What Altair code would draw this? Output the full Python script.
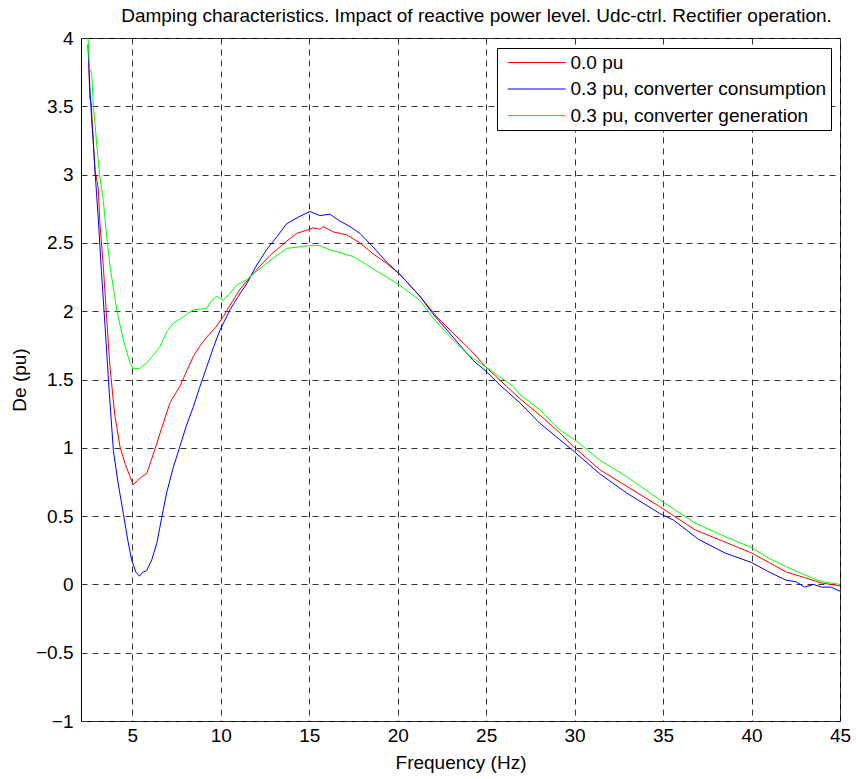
import altair as alt
import pandas as pd

SERIES = ["0.0 pu", "0.3 pu, converter consumption", "0.3 pu, converter generation"]
COLORS = ["#ff0000", "#0000ff", "#00ff00"]

red_f = [2.5, 2.55, 2.6, 2.68, 2.79, 2.89, 3.0, 3.08, 3.17, 3.36, 3.55, 3.74, 4.0, 4.3, 4.6, 4.87,
         5.05, 5.3, 5.55, 5.81, 6.1, 6.38, 6.75, 7.13, 7.69, 8.1, 8.45, 8.8, 9.2, 9.7, 10.14, 10.6,
         11.08, 11.6, 12.21, 12.8, 13.34, 13.8, 14.29, 14.8, 15.22, 15.6, 15.79, 16.36, 17.1, 17.86,
         18.61, 19.37, 20.12, 21.25, 22.2, 23.13, 24.08, 25.0, 26.15, 26.9, 28.03, 29.16, 30.0,
         31.42, 32.93, 34.8, 36.8, 38.5, 40.0, 41.0, 41.97, 43.0, 43.96, 45.0]
red_v = [3.95, 3.75, 3.56, 3.52, 3.25, 3.03, 2.96, 2.89, 2.64, 2.33, 1.95, 1.59, 1.25, 1.01, 0.88, 0.79,
         0.73, 0.76, 0.79, 0.81, 0.92, 1.03, 1.18, 1.33, 1.45, 1.57, 1.67, 1.74, 1.81, 1.88, 1.96, 2.06,
         2.16, 2.24, 2.33, 2.41, 2.47, 2.52, 2.57, 2.59, 2.61, 2.60, 2.62, 2.58, 2.56, 2.50,
         2.42, 2.35, 2.27, 2.11, 1.96, 1.84, 1.72, 1.59, 1.45, 1.36, 1.24, 1.11, 1.00,
         0.84, 0.72, 0.57, 0.40, 0.31, 0.23, 0.16, 0.09, 0.05, 0.01, -0.01]

blue_f = [2.5, 2.6, 2.7, 2.79, 2.89, 3.08, 3.25, 3.46, 3.7, 3.93, 4.2, 4.49, 4.75, 4.96, 5.2, 5.4,
          5.6, 5.81, 6.1, 6.38, 6.65, 6.94, 7.3, 7.69, 8.05, 8.45, 8.8, 9.2, 9.6, 9.95, 10.52, 11.0,
          11.46, 12.0, 12.59, 13.2, 13.72, 14.4, 15.04, 15.6, 16.17, 16.73, 17.3, 17.86, 18.61, 19.37,
          20.12, 21.25, 22.0, 23.13, 24.26, 25.0, 25.77, 26.9, 28.03, 29.16, 30.0, 31.42, 32.93,
          34.8, 35.6, 37.0, 38.5, 40.0, 41.0, 41.97, 42.5, 43.0, 43.5, 43.96, 44.5, 45.0]
blue_v = [3.95, 3.64, 3.4, 3.25, 3.03, 2.67, 2.3, 1.89, 1.4, 0.98, 0.74, 0.52, 0.32, 0.18, 0.09, 0.06,
          0.09, 0.10, 0.18, 0.30, 0.48, 0.67, 0.85, 1.01, 1.16, 1.30, 1.44, 1.59, 1.74, 1.86, 2.01, 2.11,
          2.20, 2.33, 2.45, 2.55, 2.64, 2.69, 2.73, 2.70, 2.71, 2.66, 2.62, 2.57, 2.47, 2.36,
          2.27, 2.11, 1.98, 1.81, 1.64, 1.56, 1.46, 1.33, 1.18, 1.06, 0.97, 0.81, 0.67,
          0.52, 0.47, 0.33, 0.23, 0.16, 0.09, 0.03, 0.02, -0.02, 0.0, -0.02, -0.02, -0.05]

green_f = [2.5, 2.55, 2.6, 2.7, 2.8, 2.91, 3.0, 3.17, 3.36, 3.55, 3.74, 4.12, 4.49, 4.87, 5.05, 5.4,
           5.81, 6.2, 6.56, 6.95, 7.31, 7.9, 8.45, 9.2, 9.5, 9.77, 10.14, 10.5, 10.9, 11.46, 12.0,
           12.59, 13.2, 13.72, 14.4, 15.04, 15.6, 16.17, 17.49, 18.61, 19.37, 20.12, 21.25, 22.0,
           23.13, 24.08, 25.0, 26.53, 26.9, 28.03, 29.16, 30.0, 31.42, 32.93, 34.8, 36.8, 38.5,
           40.0, 41.0, 41.97, 43.0, 43.96, 45.0]
green_v = [4.0, 3.85, 3.77, 3.75, 3.5, 3.35, 3.2, 2.98, 2.81, 2.55, 2.33, 2.01, 1.79, 1.62, 1.58, 1.58,
           1.62, 1.68, 1.74, 1.85, 1.91, 1.96, 2.01, 2.02, 2.08, 2.11, 2.08, 2.13, 2.19, 2.23, 2.29,
           2.35, 2.41, 2.46, 2.47, 2.48, 2.48, 2.45, 2.40, 2.31, 2.25, 2.19, 2.08, 1.95,
           1.79, 1.67, 1.59, 1.45, 1.39, 1.28, 1.13, 1.06, 0.91, 0.79, 0.62, 0.45, 0.35,
           0.27, 0.19, 0.13, 0.07, 0.02, 0.0]

x_ticks = [5, 10, 15, 20, 25, 30, 35, 40, 45]
y_ticks = [-1, -0.5, 0, 0.5, 1, 1.5, 2, 2.5, 3, 3.5, 4]

rows = []
for name, fs, vs in [(SERIES[0], red_f, red_v), (SERIES[1], blue_f, blue_v), (SERIES[2], green_f, green_v)]:
    for f, v in zip(fs, vs):
        rows.append({"series": name, "freq": f, "de": v})
df = pd.DataFrame(rows)

FONT = "Liberation Sans"

chart = alt.Chart(df).mark_line(strokeWidth=1, clip=True).encode(
    x=alt.X("freq:Q", scale=alt.Scale(domain=[2.1, 45], nice=False, zero=False),
            axis=alt.Axis(values=x_ticks, title="Frequency (Hz)", format="d", labelFlush=False,
                          labelPadding=5, titlePadding=8)),
    y=alt.Y("de:Q", scale=alt.Scale(domain=[-1, 4], nice=False),
            axis=alt.Axis(values=y_ticks, title="De (pu)", format="~g", labelFlush=False,
                          labelPadding=8, titlePadding=6)),
    color=alt.Color("series:N", scale=alt.Scale(domain=SERIES, range=COLORS),
                    legend=alt.Legend(title=None, orient="none", legendX=416, legendY=10,
                                      symbolType="M-0.4,0H5.6", symbolSize=374, symbolStrokeWidth=1,
                                      symbolFillColor="transparent",
                                      labelFontSize=19, labelFont=FONT, labelColor="black",
                                      labelLimit=400, strokeColor="black", fillColor="white",
                                      padding=4, rowPadding=5.5, labelOffset=48.5)),
    order="freq:Q",
).properties(
    width=759, height=683,
    title=alt.TitleParams("Damping characteristics. Impact of reactive power level. Udc-ctrl. Rectifier operation.",
                          fontSize=19, font=FONT, fontWeight="normal", color="black", offset=3, dx=16),
    padding={"left": 81, "top": 38, "right": 16, "bottom": 58},
    autosize=alt.AutoSizeParams(type="none"),
    background="white",
).configure_view(
    stroke="black", strokeWidth=1
).configure_axis(
    grid=True, gridColor="#333333", gridDash=[6, 5], gridWidth=1, gridOpacity=1,
    ticks=False, domain=False,
    labelFont=FONT, labelFontSize=19, labelColor="black",
    titleFont=FONT, titleFontSize=19, titleFontWeight="normal", titleColor="black",
)

chart.save("out.html", embed_options={"renderer": "svg", "actions": False})
